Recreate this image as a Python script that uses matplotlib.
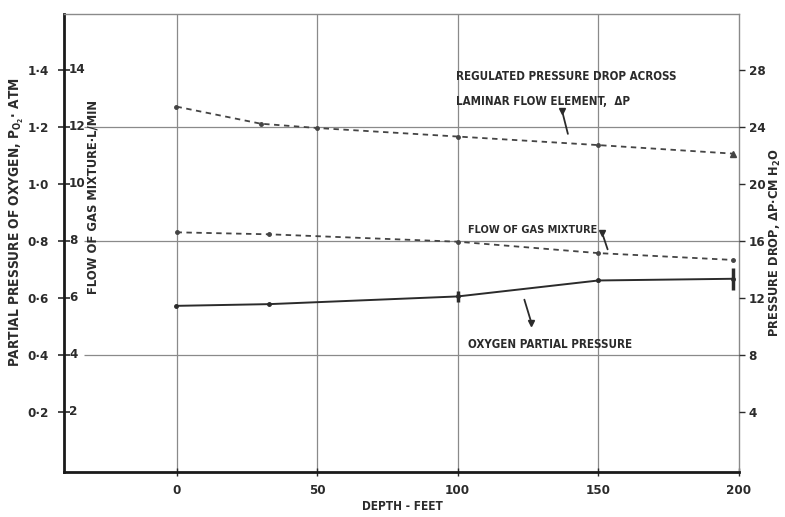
import matplotlib
matplotlib.use("Agg")
import matplotlib.pyplot as plt
import matplotlib.transforms as mtransforms

plt.rcParams['font.family'] = ['DejaVu Sans']
plt.rcParams['font.stretch'] = 'condensed'
plt.rcParams['font.weight'] = 'bold'

# ---- data ----
depth_dp = [0, 30, 50, 100, 150, 198]
pressure_drop = [25.4, 24.2, 23.9, 23.3, 22.7, 22.1]   # cm H2O

depth_flow = [0, 33, 100, 150, 198]
gas_flow = [8.29, 8.22, 7.96, 7.56, 7.32]             # L/min

depth_o2 = [0, 33, 100, 150, 198]
po2 = [0.571, 0.577, 0.604, 0.660, 0.666]             # atm
po2_err = [0.0, 0.0, 0.018, 0.006, 0.038]

x_ticks = [0, 50, 100, 150, 200]
flow_ticks = [2, 4, 6, 8, 10, 12, 14]
flow_labels = ['2', '4', '6', '8', '10', '12', '14']
po2_ticks = [0.2, 0.4, 0.6, 0.8, 1.0, 1.2, 1.4]
po2_labels = ['0·2', '0·4', '0·6', '0·8', '1·0', '1·2', '1·4']
dp_ticks = [4, 8, 12, 16, 20, 24, 28]
dp_labels = ['4', '8', '12', '16', '20', '24', '28']
grid_flow = [4, 8, 12]

XLIM = (-40, 200)
YLIM = (-0.12, 15.95)

INK = '#2b2b2b'
GRID = '#8a8a8a'
TICK_FS = 9.5

fig = plt.figure(figsize=(7.85, 5.17), dpi=100)
ax = fig.add_axes([64/785, 45/517, 675/785, 458/517])
ax.set_xlim(*XLIM)
ax.set_ylim(*YLIM)

ax_po = ax.twinx()
ax_po.set_ylim(YLIM[0]/10, YLIM[1]/10)
ax_dp = ax.twinx()
ax_dp.set_ylim(YLIM[0]*2, YLIM[1]*2)

for a in (ax_po, ax_dp):
    for s in a.spines.values():
        s.set_visible(False)

# spines
ax.spines['left'].set_linewidth(2.0)
ax.spines['left'].set_color('#1a1a1a')
ax.spines['bottom'].set_linewidth(2.0)
ax.spines['bottom'].set_color('#1a1a1a')
ax.spines['top'].set_linewidth(1.0)
ax.spines['top'].set_color(GRID)
ax.spines['right'].set_linewidth(1.0)
ax.spines['right'].set_color(GRID)

# grid
for xv in x_ticks[:-1]:
    ax.axvline(xv, color=GRID, lw=0.9, zorder=0)
ax.hlines(grid_flow, -33, 200, color=GRID, lw=0.9, zorder=0)

# x axis
ax.set_xticks(x_ticks)
ax.set_xticklabels([str(v) for v in x_ticks], fontsize=TICK_FS, color=INK)
ax.tick_params(axis='x', direction='inout', length=6, width=1, pad=6, color=INK)

# left: flow ticks (cross ticks), labels inside
ax.set_yticks(flow_ticks)
ax.set_yticklabels([])
ax.tick_params(axis='y', direction='inout', length=9, width=1.2, color=INK)
trans = mtransforms.blended_transform_factory(ax.transAxes, ax.transData)
offset = mtransforms.ScaledTranslation(5/100, 0, fig.dpi_scale_trans)
for v, lab in zip(flow_ticks, flow_labels):
    ax.text(0, v, lab, transform=trans + offset, ha='left', va='center',
            fontsize=TICK_FS, color=INK)

# PO2 labels on the outer left
ax_po.yaxis.set_ticks_position('left')
ax_po.set_yticks(po2_ticks)
ax_po.set_yticklabels(po2_labels, fontsize=TICK_FS, color=INK)
ax_po.tick_params(axis='y', length=0, pad=11)

# right: pressure drop
ax_dp.set_yticks(dp_ticks)
ax_dp.set_yticklabels(dp_labels, fontsize=TICK_FS, color=INK)
ax_dp.tick_params(axis='y', direction='out', length=4, width=1, color=INK, pad=3)

# series
DASH = (0, (3, 2.5))
ax_dp.plot(depth_dp, pressure_drop, linestyle=DASH, color='#444444', lw=1.3,
           marker='o', markersize=2.5, markevery=list(range(len(depth_dp) - 1)),
           clip_on=False)
ax_dp.plot(depth_dp[-1:], pressure_drop[-1:], linestyle='none', marker='^',
           markersize=4, color='#444444', clip_on=False)

ax.plot(depth_flow, gas_flow, linestyle=DASH, color='#444444', lw=1.3,
        marker='o', markersize=2.5, clip_on=False)

ax_po.plot(depth_o2, po2, color=INK, lw=1.4, marker='o', markersize=2.5, clip_on=False)
eb = ax_po.errorbar(depth_o2, po2, yerr=po2_err, fmt='none', ecolor=INK,
                    elinewidth=2.5, capsize=0)
for c in eb.lines[2]:
    c.set_clip_on(False)

# annotations
fs_ann = 8.3
ax_dp.text(99.5, 27.3, 'REGULATED PRESSURE DROP ACROSS', fontsize=fs_ann, color=INK,
           ha='left', va='baseline')
ax_dp.text(99.5, 25.5, 'LAMINAR FLOW ELEMENT,  ΔP', fontsize=fs_ann, color=INK,
           ha='left', va='baseline')
ax_dp.annotate('', xy=(139.4, 23.3), xytext=(137.1, 25.1),
               arrowprops=dict(arrowstyle='-', color=INK, lw=1.3))
ax_dp.plot([137.1], [25.1], marker='v', markersize=4, color=INK)

ax.text(103.8, 8.25, 'FLOW OF GAS MIXTURE', fontsize=7.8, color=INK,
        ha='left', va='baseline')
ax.annotate('', xy=(153.6, 7.6), xytext=(151.4, 8.25),
            arrowprops=dict(arrowstyle='-', color=INK, lw=1.3))
ax.plot([151.4], [8.25], marker='v', markersize=4, color=INK)

ax_po.text(103.8, 0.424, 'OXYGEN PARTIAL PRESSURE', fontsize=fs_ann, color=INK,
           ha='left', va='baseline')
ax_po.annotate('', xy=(123.4, 0.602), xytext=(126.2, 0.511),
               arrowprops=dict(arrowstyle='-', color=INK, lw=1.3))
ax_po.plot([126.2], [0.511], marker='v', markersize=4, color=INK)

# axis titles
fig.text(17/785, 1 - 222/517, 'PARTIAL PRESSURE OF OXYGEN, P$_{\\mathregular{O_2}}$· ATM',
         rotation=90, ha='center', va='center', fontsize=9.8, color=INK)
fig.text(93/785, 1 - 197/517, 'FLOW OF GAS MIXTURE·L/MIN', rotation=90,
         ha='center', va='center', fontsize=9.3, color=INK)
fig.text(775/785, 1 - 243/517, 'PRESSURE DROP, ΔP·CM H$_{\\mathregular{2}}$O', rotation=90,
         ha='center', va='center', fontsize=9.2, color=INK)
fig.text(402/785, 1 - 506/517, 'DEPTH - FEET', ha='center', va='center',
         fontsize=8.5, color=INK)

fig.savefig('out.png', dpi=100)
